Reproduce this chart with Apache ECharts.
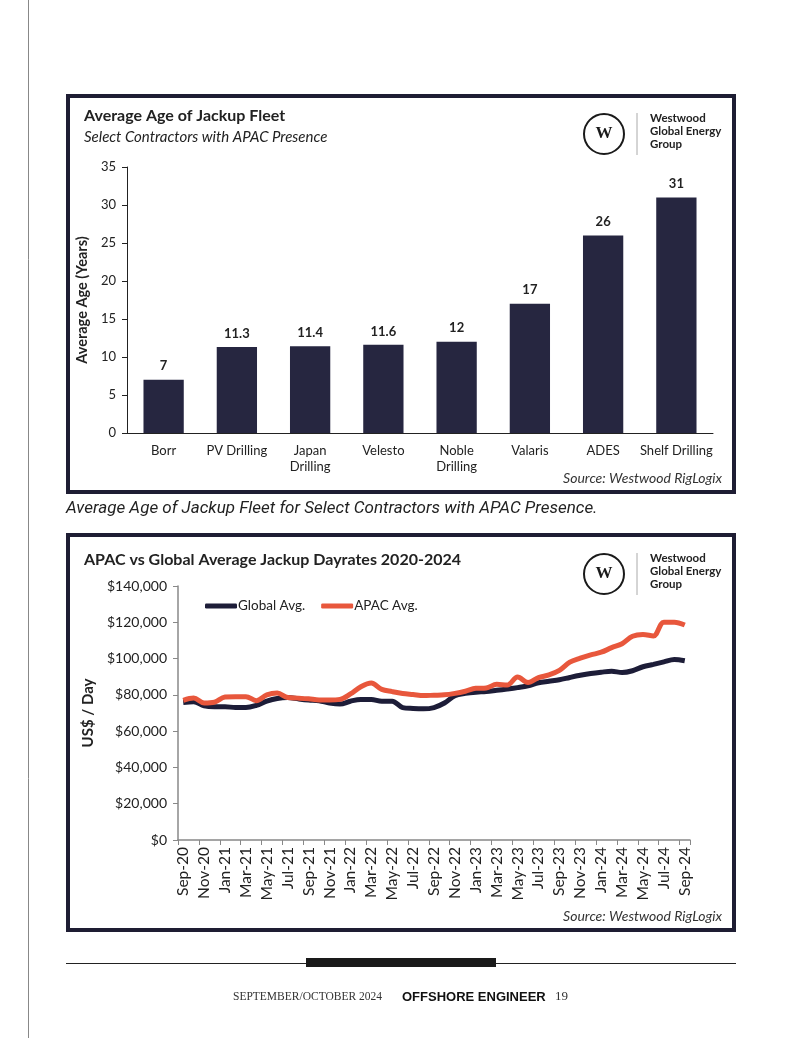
<!DOCTYPE html>
<html>
<head>
<meta charset="utf-8">
<script src="https://cdn.jsdelivr.net/npm/echarts@6/dist/echarts.min.js"></script>
<style>
html,body{margin:0;padding:0;background:#fff;}
#c{width:799px;height:1038px;}
</style>
</head>
<body>
<div id="c"></div>
<script>
// ---- Chart 1 data ----
const contractors = ['Borr','PV Drilling','Japan\nDrilling','Velesto','Noble\nDrilling','Valaris','ADES','Shelf Drilling'];
const avgAge = [7, 11.3, 11.4, 11.6, 12, 17, 26, 31];

// ---- Chart 2 data ----
const months = ['Sep-20','Oct-20','Nov-20','Dec-20','Jan-21','Feb-21','Mar-21','Apr-21','May-21','Jun-21','Jul-21','Aug-21',
'Sep-21','Oct-21','Nov-21','Dec-21','Jan-22','Feb-22','Mar-22','Apr-22','May-22','Jun-22','Jul-22','Aug-22',
'Sep-22','Oct-22','Nov-22','Dec-22','Jan-23','Feb-23','Mar-23','Apr-23','May-23','Jun-23','Jul-23','Aug-23',
'Sep-23','Oct-23','Nov-23','Dec-23','Jan-24','Feb-24','Mar-24','Apr-24','May-24','Jun-24','Jul-24','Aug-24','Sep-24'];
const globalAvg = [75800,76200,74000,73500,73500,73000,73000,74200,76500,78000,78500,77800,
77200,76800,75500,74900,76500,77500,77500,76500,76500,73000,72500,72300,
73000,75500,79500,80800,81500,81800,82500,83200,84000,85000,86700,87500,
88300,89600,90800,91800,92500,93000,92300,93300,95500,96800,98200,99500,98800];
const apacAvg = [77000,78200,75500,76000,78800,79000,79000,76800,80000,81000,78500,78200,
77800,77200,77200,77500,80500,84500,86500,83000,81800,80800,80200,79600,
79800,80000,80800,82000,83600,83800,85800,85400,89800,86800,89500,91000,
93500,98000,100200,102000,103500,106000,108200,112300,113300,112500,120000,120000,118500];

const NAVY = '#262640';
const LINE_NAVY = '#1d1d38';
const ORANGE = '#e8573c';
const FONT = 'Lato, "Open Sans", sans-serif';

function logo(cx, cy) {
  return [
    {type:'circle', shape:{cx:cx, cy:cy, r:20}, style:{fill:'none', stroke:'#1a1a1a', lineWidth:2}},
    {type:'text', x:cx, y:cy, style:{text:'W', font:'bold 17px "Liberation Serif", serif', fill:'#1a1a1a', textAlign:'center', textVerticalAlign:'middle'}},
    {type:'line', shape:{x1:cx+33, y1:cy-21, x2:cx+33, y2:cy+21}, style:{stroke:'#aaaaaa', lineWidth:1}},
    {type:'text', x:cx+46, y:cy-22, style:{text:'Westwood\nGlobal Energy\nGroup', font:'bold 11.5px ' + FONT, fill:'#222', lineHeight:13, textAlign:'left', textVerticalAlign:'top'}}
  ];
}

const chart = echarts.init(document.getElementById('c'), null, {renderer:'canvas'});

const graphics = [
  // page left rule
  {type:'line', shape:{x1:28.5, y1:0, x2:28.5, y2:1038}, style:{stroke:'#888', lineWidth:1}},
  // frames
  {type:'rect', shape:{x:68, y:96, width:666, height:396}, style:{fill:'none', stroke:'#1e1d33', lineWidth:4}},
  {type:'rect', shape:{x:68, y:535, width:666, height:395}, style:{fill:'none', stroke:'#1e1d33', lineWidth:4}},
  // chart 1 titles
  {type:'text', x:84, y:116, style:{text:'Average Age of Jackup Fleet', font:'bold 16px ' + FONT, fill:'#222', textVerticalAlign:'middle'}},
  {type:'text', x:84, y:137, style:{text:'Select Contractors with APAC Presence', font:'italic 15px ' + FONT, fill:'#222', textVerticalAlign:'middle'}},
  {type:'text', x:722, y:478, style:{text:'Source: Westwood RigLogix', font:'italic 14px ' + FONT, fill:'#333', textAlign:'right', textVerticalAlign:'middle'}},
  // caption
  {type:'text', x:66, y:509, style:{text:'Average Age of Jackup Fleet for Select Contractors with APAC Presence.', font:'italic 17px "Liberation Sans Narrow", "Roboto", sans-serif', fill:'#222', textVerticalAlign:'middle'}},
  // chart 2 titles
  {type:'text', x:84, y:560, style:{text:'APAC vs Global Average Jackup Dayrates 2020-2024', font:'bold 16px ' + FONT, fill:'#222', textVerticalAlign:'middle'}},
  {type:'text', x:722, y:916, style:{text:'Source: Westwood RigLogix', font:'italic 14px ' + FONT, fill:'#333', textAlign:'right', textVerticalAlign:'middle'}},
  // footer
  {type:'line', shape:{x1:66, y1:963.5, x2:736, y2:963.5}, style:{stroke:'#222', lineWidth:1.2}},
  {type:'rect', shape:{x:306, y:958, width:190, height:9}, style:{fill:'#1a1a1a'}},
  {type:'text', x:233, y:997, style:{text:'SEPTEMBER/OCTOBER 2024', font:'11.5px "Liberation Serif", serif', fill:'#333', textVerticalAlign:'middle'}},
  {type:'text', x:402, y:997, style:{text:'OFFSHORE ENGINEER', font:'bold 13px "Liberation Sans Narrow", "Liberation Sans", sans-serif', fill:'#111', textVerticalAlign:'middle'}},
  {type:'text', x:555, y:997, style:{text:'19', font:'13px "Liberation Serif", serif', fill:'#333', textVerticalAlign:'middle'}}
].concat(logo(604, 134)).concat(logo(604, 574));

const option = {
  backgroundColor:'#ffffff',
  animation:false,
  textStyle:{fontFamily:FONT},
  graphic:{elements:graphics},
  legend:{
    left:200, top:594,
    itemWidth:32, itemHeight:5, itemGap:16,
    icon:'roundRect',
    textStyle:{fontSize:13.5, color:'#222', fontFamily:FONT, padding:[0,0,0,-4]},
    data:['Global Avg.','APAC Avg.']
  },
  grid:[
    {left:127, top:167, width:586, height:266, containLabel:false},
    {left:178, top:586, width:512, height:254, containLabel:false}
  ],
  xAxis:[
    {
      type:'category', gridIndex:0, data:contractors,
      axisLine:{lineStyle:{color:'#222', width:1}},
      axisTick:{show:false},
      axisLabel:{interval:0, color:'#222', fontSize:13, margin:10, lineHeight:16, fontFamily:FONT}
    },
    {
      type:'category', gridIndex:1, data:months, boundaryGap:true,
      axisLine:{lineStyle:{color:'#888', width:1.5}},
      axisTick:{show:true, interval:1, length:5, lineStyle:{color:'#888'}},
      axisLabel:{interval:1, rotate:90, color:'#222', fontSize:15.5, margin:7, fontFamily:FONT}
    }
  ],
  yAxis:[
    {
      type:'value', gridIndex:0, min:0, max:35, interval:5,
      name:'Average Age (Years)', nameLocation:'middle', nameGap:31,
      nameTextStyle:{fontSize:14.5, fontWeight:'bold', color:'#222', fontFamily:FONT},
      axisLine:{show:true, lineStyle:{color:'#222', width:1}},
      axisTick:{show:true, length:5, lineStyle:{color:'#222'}},
      splitLine:{show:false},
      axisLabel:{color:'#222', fontSize:13, margin:11, fontFamily:FONT}
    },
    {
      type:'value', gridIndex:1, min:0, max:140000, interval:20000,
      name:'US$ / Day', nameLocation:'middle', nameGap:82,
      nameTextStyle:{fontSize:15, fontWeight:'bold', color:'#222', fontFamily:FONT},
      axisLine:{show:true, lineStyle:{color:'#888', width:1.5}},
      axisTick:{show:true, length:5, lineStyle:{color:'#888'}},
      splitLine:{show:false},
      axisLabel:{color:'#222', fontSize:14, margin:11, fontFamily:FONT,
        formatter:function(v){ return '$' + v.toLocaleString('en-US'); }}
    }
  ],
  series:[
    {
      type:'bar', xAxisIndex:0, yAxisIndex:0, data:avgAge,
      barWidth:'55%',
      itemStyle:{color:NAVY},
      label:{show:true, position:'top', distance:7, color:'#222', fontSize:13, fontWeight:'bold', fontFamily:FONT}
    },
    {
      name:'Global Avg.', type:'line', xAxisIndex:1, yAxisIndex:1, data:globalAvg,
      smooth:0.35, symbol:'none',
      lineStyle:{color:LINE_NAVY, width:5},
      itemStyle:{color:LINE_NAVY}
    },
    {
      name:'APAC Avg.', type:'line', xAxisIndex:1, yAxisIndex:1, data:apacAvg,
      smooth:0.35, symbol:'none',
      lineStyle:{color:ORANGE, width:5},
      itemStyle:{color:ORANGE}
    }
  ]
};
chart.setOption(option);
</script>
</body>
</html>
